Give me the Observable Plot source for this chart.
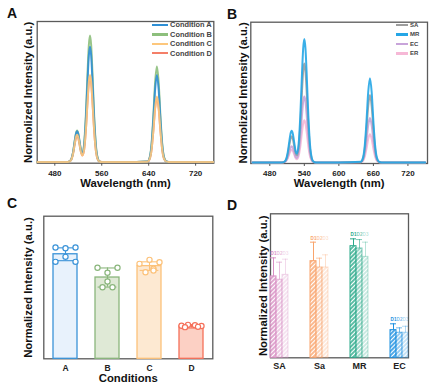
<!DOCTYPE html>
<html><head><meta charset="utf-8">
<script src="https://cdn.jsdelivr.net/npm/d3@7"></script>
<script src="https://cdn.jsdelivr.net/npm/@observablehq/plot@0.6"></script>
<style>
html,body{margin:0;padding:0;background:#fff;}
#fig{position:relative;width:440px;height:389px;overflow:hidden;font-family:"Liberation Sans",Arial,Helvetica,sans-serif;}
.panel{position:absolute;}
.plabel{position:absolute;font-weight:bold;font-size:14px;line-height:14px;color:#111;}
.lrow{position:absolute;display:flex;align-items:center;white-space:nowrap;font-weight:bold;color:#444;}
.lsw{display:inline-block;}
</style></head><body><div id="fig"></div>
<script>
// ---------- DATA ----------
const wavelength = [450,500,504,508,511,514,516,518,520,522,525,527,530,533,536,538,540,542,544,547,550,553,556,560,600,638,642,645,648,651,654,657,660,663,666,670,674,700,750];

// Panel A
const condNames = ["Condition A","Condition B","Condition C","Condition D"];
const condA = [0,0,.002,.019,.066,.148,.199,.220,.199,.149,.075,.058,.117,.309,.595,.757,.820,.757,.595,.308,.111,.028,.005,0,0,.004,.035,.123,.302,.518,.620,.518,.302,.123,.035,.004,0,0,0];
const condB = [0,0,.002,.019,.067,.152,.204,.225,.204,.153,.077,.061,.129,.339,.653,.831,.900,.831,.653,.338,.122,.031,.005,0,0,.004,.038,.135,.331,.568,.680,.568,.331,.135,.038,.004,0,0,0];
const condC = [0,0,.002,.017,.058,.131,.177,.195,.177,.132,.065,.047,.090,.234,.450,.572,.620,.572,.450,.233,.084,.021,.004,0,0,.003,.026,.092,.227,.389,.466,.389,.227,.092,.026,.003,0,0,0];
const condD = [0,0,.002,.016,.057,.128,.172,.190,.172,.129,.064,.047,.088,.230,.443,.563,.610,.563,.443,.229,.082,.021,.004,0,0,.003,.026,.091,.224,.384,.460,.384,.224,.091,.026,.003,0,0,0];
const condColors = ["#2f8fd5","#8dbf7c","#fdc77c","#f47f68"];
const xTicksA = [480,560,640,720];

// Panel B
const specNames = ["SA","MR","EC","ER"];
const specSA = [0,0,.001,.016,.055,.125,.169,.186,.169,.126,.063,.049,.100,.265,.512,.651,.705,.651,.512,.264,.095,.024,.004,0,0,.003,.027,.095,.234,.401,.480,.401,.234,.095,.027,.003,0,0,0];
const specMR = [0,0,.002,.019,.067,.152,.205,.226,.205,.153,.077,.061,.126,.331,.639,.812,.880,.812,.639,.330,.119,.030,.005,0,0,.004,.034,.119,.292,.501,.600,.501,.292,.119,.034,.004,0,0,0];
const specEC = [0,0,.001,.010,.034,.078,.104,.115,.104,.079,.039,.032,.066,.176,.341,.434,.470,.434,.341,.176,.063,.016,.003,0,0,.002,.018,.063,.154,.264,.316,.264,.154,.063,.018,.002,0,0,0];
const specER = [0,0,.001,.008,.027,.061,.082,.090,.082,.061,.030,.022,.044,.113,.218,.277,.300,.277,.218,.113,.041,.010,.002,0,0,.001,.011,.040,.097,.167,.200,.167,.097,.040,.011,.001,0,0,0];
const specColors = ["#9d9d9d","#25a6e6","#c8a4da","#f6b8d6"];
const xTicksB = [480,540,600,660,720];

// Panel C
const conditions = ["A","B","C","D"];
const condMeans = [0.733,0.570,0.650,0.228];
const condErr = [0.045,0.067,0.030,0.012];
const condStroke = ["#3a93d8","#8ab67c","#fcc27a","#f5705a"];
const condFill = ["#e8f2fc","#dfe9d6","#fde9d2","#fcd0c4"];
const dotCond = ["A","A","A","A","A","A","B","B","B","B","B","B","C","C","C","C","C","C","D","D","D","D","D","D"];
const dotValue = [.780,.775,.780,.715,.680,.680, .638,.638,.603,.542,.502,.502, .666,.694,.677,.631,.607,.619, .232,.238,.236,.230,.222,.224];
const dotJitter = [-1,0,1,0,-1,1, -1,1,0,0,-0.5,0.5, -1,0,1,0.4,-0.4,0.4, -1,-0.35,0.35,1,-0.65,0.65];

// Panel D
const groups = ["SA","Sa","MR","EC"];
const replicates = ["D1","D2","D3"];
const groupColors = ["#d98fc4","#f9a46c","#2aa98a","#1b8fe0"];
const replicateOpacity = [1,0.6,0.33];
const dSA = [0.565,0.542,0.576], eSA = [0.129,0.122,0.109];
const dSa = [0.671,0.627,0.627], eSa = [0.132,0.065,0.088];
const dMR = [0.775,0.759,0.701], eMR = [0.051,0.062,0.102];
const dEC = [0.192,0.174,0.174], eEC = [0.044,0.034,0.045];

// ---------- RENDER ----------
const FONT = '"Liberation Sans", Arial, Helvetica, sans-serif';
const fig = document.getElementById("fig");
function place(el, left, top) { el.classList.add("panel"); el.style.left = left + "px"; el.style.top = top + "px"; fig.appendChild(el); }
function yTitle(t, dx, extra = {}) {
  return Plot.text([t], {text: d => d, frameAnchor: "left", rotate: -90, dx, textAnchor: "middle", lineAnchor: "middle", fontSize: 11.3, fontWeight: "bold", fill: "#111", ...extra});
}
function xTitle(t, dy) {
  return Plot.text([t], {text: d => d, frameAnchor: "bottom", dy, textAnchor: "middle", lineAnchor: "middle", fontSize: 11.3, fontWeight: "bold", fill: "#111"});
}

function spectrum({series, colors, order, xDomain, xTicks, m, yTitleText, yTitleDx}) {
  const lines = order.map(i => Plot.line(wavelength.map((w, j) => ({w, v: series[i][j]})),
    {x: "w", y: "v", stroke: colors[i], strokeWidth: 2, strokeOpacity: 0.9, curve: "monotone-x"}));
  return Plot.plot({
    width: 220, height: 195,
    marginLeft: m[0], marginRight: m[1], marginTop: m[2], marginBottom: m[3],
    style: {fontFamily: FONT, background: "none", overflow: "visible"},
    x: {domain: xDomain},
    y: {domain: [-0.008, 1], axis: null},
    marks: [
      Plot.frame({stroke: "#5a5a5a", strokeWidth: 1.3}),
      Plot.axisX({ticks: xTicks, tickSize: 3, tickPadding: 4, tickFormat: d => String(d), fontSize: 8, fontWeight: "bold", fill: "#222", stroke: "#555", label: null}),
      ...lines,
      xTitle("Wavelength (nm)", 20),
      yTitle(yTitleText, yTitleDx)
    ]
  });
}

const plotA = spectrum({series: [condA, condB, condC, condD], colors: condColors, order: [3,1,0,2],
  xDomain: [450, 751], xTicks: xTicksA, m: [36.7, 6.7, 21, 32.3], yTitleText: "Normolized Intensity (a.u.)", yTitleDx: -8.4});
place(plotA, 0, 0);

const plotB = spectrum({series: [specSA, specMR, specEC, specER], colors: specColors, order: [3,2,0,1],
  xDomain: [447, 754], xTicks: xTicksB, m: [30.3, 13, 21.7, 32], yTitleText: "Normolized Intensity (a.u.)", yTitleDx: -7});
place(plotB, 220, 0);

// Panel C
const cdata = conditions.map((c, i) => ({c, m: condMeans[i], e: condErr[i], stroke: condStroke[i], fill: condFill[i]}));
const ddots = dotCond.map((c, i) => ({c, v: dotValue[i], j: dotJitter[i], stroke: condStroke[conditions.indexOf(c)]}));
const jitters = Array.from(new Set(dotJitter));
const plotC = Plot.plot({
  width: 220, height: 194,
  marginLeft: 43.3, marginRight: 7.7, marginTop: 20.7, marginBottom: 30.7,
  style: {fontFamily: FONT, background: "none", overflow: "visible"},
  color: {type: "identity"},
  x: {domain: conditions, paddingInner: 0.425, paddingOuter: 0.19},
  y: {domain: [0, 1], axis: null},
  marks: [
    Plot.frame({stroke: "#5a5a5a", strokeWidth: 1.3}),
    Plot.barY(cdata, {x: "c", y: "m", fill: "fill", stroke: "stroke", strokeWidth: 1.3}),
    Plot.ruleX(cdata, {x: "c", y1: d => d.m - d.e, y2: d => d.m + d.e, stroke: "stroke", strokeWidth: 1.1}),
    Plot.tickY(cdata, {x: "c", y: d => d.m + d.e, stroke: "stroke", strokeWidth: 1.1, insetLeft: 2.6, insetRight: 2.6}),
    Plot.tickY(cdata, {x: "c", y: d => d.m - d.e, stroke: "stroke", strokeWidth: 1.1, insetLeft: 2.6, insetRight: 2.6}),
    ...jitters.map(j => Plot.dot(ddots.filter(d => d.j === j), {x: "c", y: "v", dx: j * 10, r: 2.6, stroke: "stroke", fill: "white", strokeWidth: 1.2})),
    Plot.axisX({tickSize: 0, tickPadding: 6, fontSize: 8.5, fontWeight: "bold", fill: "#222", label: null}),
    xTitle("Conditions", 19.4),
    yTitle("Normalized Intensity (a.u.)", -15)
  ]
});
place(plotC, 0, 195);

// Panel D
const dVals = [dSA, dSa, dMR, dEC], dErrs = [eSA, eSa, eMR, eEC];
const ddata = [];
groups.forEach((g, gi) => replicates.forEach((r, ri) => ddata.push({
  g, r, v: dVals[gi][ri], e: dErrs[gi][ri], color: groupColors[gi], op: replicateOpacity[ri], pat: `url(#hatch-${gi})`
})));
const groupTop = new Map(groups.map((g, gi) => [g, d3.max(dVals[gi].map((v, k) => v + dErrs[gi][k]))]));
const hatchDefs = () => {
  const defs = d3.create("svg:defs");
  groupColors.forEach((col, gi) => {
    const p = defs.append("pattern").attr("id", `hatch-${gi}`).attr("patternUnits", "userSpaceOnUse")
      .attr("width", 3).attr("height", 3).attr("patternTransform", "rotate(45)");
    p.append("rect").attr("width", 3).attr("height", 3).attr("fill", col);
    p.append("line").attr("x1", 1.5).attr("y1", 0).attr("x2", 1.5).attr("y2", 3).attr("stroke", "white").attr("stroke-width", 1.1);
  });
  return defs.node();
};
const plotD = Plot.plot({
  width: 220, height: 194,
  marginLeft: 30, marginRight: 12.3, marginTop: 18.3, marginBottom: 31.7,
  style: {fontFamily: FONT, background: "none", overflow: "visible"},
  color: {type: "identity"},
  fx: {domain: groups, paddingInner: 0.552, paddingOuter: 0.486, label: null},
  x: {domain: replicates, padding: 0, axis: null},
  y: {domain: [0, 1], axis: null},
  marks: [
    hatchDefs,
    Plot.frame({stroke: "#5a5a5a", strokeWidth: 1.3, facet: "super"}),
    Plot.barY(ddata, {fx: "g", x: "r", y: "v", fill: "pat", fillOpacity: d => d.op * 0.8, stroke: "color", strokeOpacity: "op", strokeWidth: 1}),
    Plot.ruleX(ddata, {fx: "g", x: "r", y1: "v", y2: d => d.v + d.e, stroke: "color", strokeOpacity: "op", strokeWidth: 1}),
    Plot.tickY(ddata, {fx: "g", x: "r", y: d => d.v + d.e, stroke: "color", strokeOpacity: "op", strokeWidth: 1}),
    Plot.text(ddata, {fx: "g", x: "r", y: d => groupTop.get(d.g), dy: -4, text: "r", fontSize: 4.6, fontWeight: "bold", fill: "color", fillOpacity: "op", lineAnchor: "middle"}),
    Plot.axisFx({anchor: "bottom", tickSize: 0, tickPadding: 4.5, fontSize: 9, fontWeight: "bold", fill: "#222", label: null}),
    yTitle("Normalized Intensity (a.u.)", -6.8, {facet: "super"})
  ]
});
place(plotD, 220, 195);

// Panel letters
[["A", 7, 6], ["B", 227, 6.5], ["C", 7, 196], ["D", 227, 198]].forEach(([t, l, tp]) => {
  const d = document.createElement("div"); d.className = "plabel"; d.textContent = t;
  d.style.left = l + "px"; d.style.top = tp + "px"; fig.appendChild(d);
});

// Legends
function legend(names, colors, left, top0, step, swW, fs) {
  names.forEach((n, i) => {
    const row = document.createElement("div"); row.className = "lrow";
    row.style.left = left + "px"; row.style.top = (top0 + i * step - step / 2) + "px";
    row.style.height = step + "px"; row.style.fontSize = fs + "px";
    const sw = document.createElement("span"); sw.className = "lsw";
    sw.style.width = swW + "px"; sw.style.height = "2.4px"; sw.style.background = colors[i]; sw.style.marginRight = "1.8px";
    const tx = document.createElement("span"); tx.textContent = n;
    row.appendChild(sw); row.appendChild(tx); fig.appendChild(row);
  });
}
legend(condNames, condColors, 151.7, 25, 9.4, 16.6, 7.4);
legend(specNames, specColors, 396, 25, 9.45, 12.3, 6);
</script></body></html>
